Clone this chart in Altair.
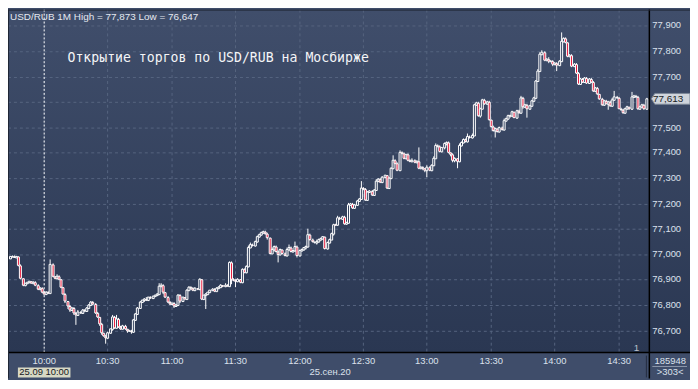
import json
import altair as alt
import pandas as pd

# ---------------- data ----------------
first_open = 76.985
closes = [
    76.990, 76.992, 76.988, 76.990, 76.955, 76.905, 76.878, 76.885, 76.890, 76.893,
    76.888, 76.892, 76.880, 76.862, 76.868, 76.852, 76.845, 76.852, 76.848, 76.962,
    76.912, 76.905, 76.915, 76.900, 76.870, 76.845, 76.815, 76.795, 76.780, 76.790,
    76.770, 76.762, 76.775, 76.770, 76.782, 76.778, 76.790, 76.800, 76.812, 76.805,
    76.770, 76.752, 76.725, 76.690, 76.680, 76.672, 76.690, 76.705, 76.755, 76.712,
    76.745, 76.715, 76.708, 76.720, 76.705, 76.698, 76.700, 76.695, 76.740, 76.765,
    76.790, 76.812, 76.818, 76.825, 76.820, 76.830, 76.826, 76.835, 76.838, 76.845,
    76.875, 76.880, 76.850, 76.830, 76.812, 76.805, 76.808, 76.795, 76.800, 76.838,
    76.815, 76.830, 76.825, 76.860, 76.872, 76.865, 76.860, 76.866, 76.862, 76.900,
    76.825, 76.838, 76.842, 76.850, 76.858, 76.862, 76.856, 76.868, 76.872, 76.878,
    76.874, 76.880, 76.876, 76.968, 76.902, 76.898, 76.895, 76.900, 76.892, 76.940,
    76.930, 76.952, 77.028, 77.040, 77.035, 77.050, 77.070, 77.078, 77.085, 77.088,
    77.082, 77.065, 77.005, 77.020, 77.030, 77.012, 77.000, 77.018, 77.005, 76.995,
    77.020, 77.028, 77.012, 77.015, 77.030, 76.995, 77.015, 77.020, 77.025, 77.030,
    77.078, 77.060, 77.050, 77.045, 77.052, 77.058, 77.062, 77.068, 77.022, 77.045,
    77.060, 77.080, 77.118, 77.115, 77.145, 77.140, 77.148, 77.120, 77.125, 77.196,
    77.200, 77.182, 77.195, 77.210, 77.220, 77.263, 77.258, 77.215, 77.245, 77.250,
    77.235, 77.255, 77.290, 77.298, 77.285, 77.305, 77.310, 77.262, 77.300, 77.340,
    77.372, 77.360, 77.333, 77.403, 77.398, 77.380, 77.392, 77.370, 77.365, 77.372,
    77.362, 77.368, 77.340, 77.345, 77.338, 77.330, 77.345, 77.332, 77.352, 77.380,
    77.430, 77.425, 77.405, 77.420, 77.435, 77.442, 77.400, 77.392, 77.370, 77.378,
    77.365, 77.430, 77.440, 77.452, 77.445, 77.465, 77.460, 77.470, 77.590, 77.598,
    77.545, 77.575, 77.608, 77.595, 77.602, 77.530, 77.505, 77.489, 77.495, 77.485,
    77.500, 77.492, 77.528, 77.535, 77.545, 77.548, 77.560, 77.540, 77.565, 77.558,
    77.618, 77.580, 77.590, 77.575, 77.585, 77.605, 77.615, 77.684, 77.723, 77.790,
    77.795, 77.765, 77.770, 77.760, 77.762, 77.748, 77.755, 77.745, 77.760, 77.840,
    77.850, 77.835, 77.780, 77.785, 77.743, 77.750, 77.716, 77.672, 77.690, 77.680,
    77.695, 77.675, 77.690, 77.680, 77.645, 77.655, 77.632, 77.614, 77.590, 77.605,
    77.595, 77.600, 77.585, 77.610, 77.620, 77.618, 77.575, 77.570, 77.558, 77.575,
    77.580, 77.575, 77.620, 77.625, 77.622, 77.575, 77.580, 77.590, 77.575, 77.613,
]
# upper / lower wick lengths in thousandths of a rouble
wick_up = [
    2, 3, 2, 3, 2, 4, 2, 3, 2, 3,   2, 4, 3, 2, 3, 2, 4, 3, 2, 18,   4, 3, 5, 2, 3, 2, 3, 2, 4, 3,
    3, 2, 5, 3, 2, 4, 3, 6, 4, 3,   2, 3, 2, 4, 2, 3, 5, 3, 6, 2,    15, 3, 2, 4, 3, 2, 3, 2, 4, 5,
    3, 4, 2, 3, 5, 3, 4, 2, 3, 4,   10, 8, 3, 2, 4, 3, 2, 5, 3, 4,   6, 3, 2, 4, 3, 2, 5, 3, 2, 4,
    3, 2, 4, 3, 2, 5, 3, 2, 4, 3,   2, 5, 3, 5, 4, 3, 2, 4, 3, 5,    3, 4, 6, 5, 3, 4, 5, 3, 4, 5,
    4, 3, 2, 5, 4, 3, 2, 4, 3, 2,   5, 10, 3, 2, 20, 3, 4, 3, 2, 3,  22, 4, 3, 2, 5, 3, 4, 3, 2, 4,
    3, 5, 4, 3, 6, 3, 4, 2, 3, 5,   4, 3, 2, 5, 4, 27, 3, 2, 4, 3,   2, 4, 5, 3, 2, 4, 3, 2, 4, 5,
    18, 3, 2, 5, 4, 3, 2, 4, 3, 6,  3, 2, 52, 4, 3, 2, 5, 3, 4, 6,   5, 4, 3, 2, 5, 4, 3, 2, 4, 3,
    2, 5, 4, 3, 4, 12, 3, 4, 5, 4,  3, 4, 6, 3, 4, 3, 2, 3, 4, 2,    3, 2, 5, 3, 4, 2, 5, 3, 4, 3,
    5, 3, 4, 2, 3, 5, 4, 3, 5, 6,   10, 4, 3, 5, 4, 3, 2, 4, 5, 33,  4, 3, 2, 5, 3, 4, 2, 3, 4, 3,
    4, 3, 5, 3, 2, 4, 3, 2, 4, 5,   3, 4, 3, 8, 25, 4, 2, 3, 4, 3,   5, 3, 20, 4, 3, 2, 4, 3, 5, 4,
]
wick_dn = [
    2, 3, 2, 2, 3, 4, 3, 2, 3, 2,   3, 2, 4, 3, 2, 5, 3, 2, 4, 2,    3, 4, 2, 3, 4, 3, 5, 10, 6, 4,
    8, 40, 4, 5, 3, 4, 3, 2, 4, 3,  5, 4, 6, 8, 5, 25, 4, 3, 6, 5,   3, 4, 5, 3, 4, 5, 3, 8, 4, 3,
    4, 3, 2, 4, 3, 5, 2, 3, 4, 3,   4, 3, 5, 4, 3, 6, 4, 5, 3, 4,    5, 4, 3, 2, 4, 5, 3, 4, 3, 2,
    5, 4, 52, 3, 4, 3, 5, 2, 4, 3,  3, 4, 2, 3, 20, 4, 25, 3, 5, 4,  3, 5, 4, 3, 6, 4, 3, 5, 4, 3,
    4, 5, 6, 3, 8, 4, 30, 3, 4, 5,  3, 4, 5, 3, 4, 6, 3, 4, 3, 4,    3, 5, 4, 3, 6, 4, 3, 5, 4, 3,
    4, 3, 5, 4, 3, 4, 5, 3, 4, 3,   5, 4, 3, 6, 4, 3, 5, 4, 3, 5,    4, 3, 2, 5, 4, 3, 6, 5, 3, 4,
    3, 4, 5, 3, 4, 6, 3, 5, 4, 3,   4, 3, 5, 4, 6, 5, 25, 4, 3, 4,   3, 5, 4, 3, 6, 4, 3, 5, 6, 8,
    25, 3, 4, 3, 5, 4, 3, 4, 3, 5,  4, 6, 3, 4, 3, 5, 4, 6, 30, 5,   4, 6, 3, 4, 3, 5, 4, 3, 5, 4,
    3, 5, 4, 35, 4, 3, 5, 3, 4, 3,  5, 4, 3, 6, 4, 5, 3, 25, 4, 3,   4, 5, 3, 4, 6, 5, 4, 3, 5, 4,
    3, 5, 4, 3, 5, 4, 3, 6, 5, 4,   3, 25, 4, 3, 4, 5, 3, 6, 5, 4,   3, 5, 4, 3, 4, 5, 4, 3, 6, 5,
]
assert len(closes) == len(wick_up) == len(wick_dn) == 300

price_ticks = [76.7, 76.8, 76.9, 77.0, 77.1, 77.2, 77.3, 77.4, 77.5, 77.6, 77.7, 77.8, 77.9]
# 77,600 is hidden behind the last-price box in the reference
price_labels_shown = [76.7, 76.8, 76.9, 77.0, 77.1, 77.2, 77.3, 77.4, 77.5, 77.7, 77.8, 77.9]
time_tick_index = [16, 46, 76, 106, 136, 166, 196, 226, 256, 286]
time_tick_labels = ["10:00", "10:30", "11:00", "11:30", "12:00",
                    "12:30", "13:00", "13:30", "14:00", "14:30"]
session_start_index = 16
last_price = 77.613
header_text = "USD/RUB 1M High = 77,873 Low = 76,647"
annotation_text = "Открытие торгов по USD/RUB на Мосбирже"
date_box_text = "25.09 10:00"
date_text = "25.сен.20"
volume_text = "185948"
count_text = ">303<"
page_text = "1"

# ---------------- table ----------------
opens = [first_open] + closes[:-1]
rows = []
for i, (o, c, u, d) in enumerate(zip(opens, closes, wick_up, wick_dn)):
    rows.append(dict(m=i, open=o, close=c,
                     high=max(o, c) + u / 1000.0,
                     low=min(o, c) - d / 1000.0,
                     dir="down" if c < o else "up"))
df = pd.DataFrame(rows)
ticks_df = pd.DataFrame({"p": price_ticks})
labels_df = pd.DataFrame({"p": price_labels_shown,
                          "lab": [f"{p:.3f}".replace(".", ",") for p in price_labels_shown]})
tticks_df = pd.DataFrame({"m": time_tick_index})

# ---------------- styling ----------------
W, H = 647, 346
PR, PB = 41, 26
FONT = "Liberation Sans"
LABEL = "#dbe1ec"
RED = "#e8173a"
UPFILL = "#34425f"
GRID = "#56647f"
plot_grad = alt.Gradient(gradient="linear", x1=0, y1=0, x2=0, y2=1,
                         stops=[alt.GradientStop(offset=0, color="#404e6b"),
                                alt.GradientStop(offset=1, color="#2a3752")])

xs = alt.Scale(domain=[-0.77, 300.58], nice=False, zero=False, padding=0, round=True)
ys = alt.Scale(domain=[76.613, 77.964], nice=False, zero=False, padding=0, round=True)
x_label_expr = f"{json.dumps(time_tick_labels)}[indexof({json.dumps(time_tick_index)}, datum.value)]"
xaxis = alt.Axis(values=time_tick_index, labelExpr=x_label_expr, grid=False,
                 ticks=False, domain=False,
                 labelColor=LABEL, labelFont=FONT, labelFontSize=9.5,
                 labelPadding=3, labelFlush=False, title=None)
yaxis = alt.Axis(values=price_ticks, labels=False, ticks=False, domain=False,
                 grid=False, title=None)

one = pd.DataFrame({"k": [0]})

plot_bg = alt.Chart(one).mark_rect(fill=plot_grad).encode(
    x=alt.value(0), x2=alt.value(W + PR), y=alt.value(0), y2=alt.value(H))

hgrid = alt.Chart(ticks_df).mark_rule(color=GRID, strokeDash=[3, 3], strokeWidth=1,
                                      yOffset=0.5).encode(
    y=alt.Y("p:Q", scale=ys, axis=yaxis), x=alt.value(0), x2=alt.value(W))
vgrid = alt.Chart(tticks_df).mark_rule(color=GRID, strokeDash=[3, 3], strokeWidth=1,
                                       xOffset=0.5).encode(
    x=alt.X("m:Q", scale=xs, axis=xaxis), y=alt.value(0), y2=alt.value(H))

base = alt.Chart(df)
wicks = base.mark_rule(color="white", strokeWidth=1, xOffset=0.5).encode(
    x=alt.X("m:Q", scale=xs, axis=xaxis),
    y=alt.Y("low:Q", scale=ys, axis=yaxis),
    y2="high:Q",
)
bodies = base.mark_bar(size=2, stroke="white", strokeWidth=1, orient="vertical",
                       xOffset=0.5, yOffset=0.5).encode(
    x=alt.X("m:Q", scale=xs, axis=xaxis),
    y=alt.Y("open:Q", scale=ys, axis=yaxis),
    y2="close:Q",
    color=alt.Color("dir:N", scale=alt.Scale(domain=["down", "up"], range=[RED, UPFILL]),
                    legend=None),
)
session_line = alt.Chart(one).mark_rule(
    color="white", strokeDash=[2, 2], strokeWidth=1, xOffset=0.5
).encode(x=alt.X(datum=session_start_index, type="quantitative", scale=xs, axis=xaxis),
         y=alt.value(0), y2=alt.value(H))

y_labels = alt.Chart(labels_df).mark_text(
    align="left", baseline="middle", font=FONT, fontSize=9.5, color=LABEL
).encode(x=alt.value(W + 3), y=alt.Y("p:Q", scale=ys, axis=yaxis), text="lab:N")

sep_h = alt.Chart(one).mark_rule(color="#000000", strokeWidth=1.5).encode(
    x=alt.value(0), x2=alt.value(W + PR), y=alt.value(H))
sep_v = alt.Chart(one).mark_rule(color="#000000", strokeWidth=1.5).encode(
    x=alt.value(W), y=alt.value(0), y2=alt.value(H + PB))
sep_small = alt.Chart(one).mark_rule(color="#242d40", strokeWidth=1).encode(
    x=alt.value(W - 3), y=alt.value(H + 3), y2=alt.value(H + PB - 1))
vol_line = alt.Chart(one).mark_rule(color="#8e99ab", strokeWidth=1).encode(
    x=alt.value(W + 3), x2=alt.value(W + PR - 3), y=alt.value(H + 14))
left_edge = alt.Chart(one).mark_rule(color="#1f2636", strokeWidth=1).encode(
    x=alt.value(0.5), y=alt.value(0), y2=alt.value(H + PB))
top_edge = alt.Chart(one).mark_rule(color="#1f2636", strokeWidth=1).encode(
    x=alt.value(0), x2=alt.value(W + PR), y=alt.value(0.5))

price_marker = alt.Chart(one).mark_point(
    shape="M -1 0 L -0.82 -0.28 L 1 -0.28 L 1 0.28 L -0.82 0.28 Z",
    size=39 * 39, filled=True, fill="#cfd4db", stroke="#7c8798", strokeWidth=1, opacity=1
).encode(x=alt.value(W + 21.5), y=alt.Y(datum=last_price, type="quantitative", scale=ys, axis=yaxis))
price_text = alt.Chart(pd.DataFrame({"t": [f"{last_price:.3f}".replace('.', ',')]})).mark_text(
    align="center", baseline="middle", font=FONT, fontSize=10, color="#1a1d24"
).encode(x=alt.value(W + 19), y=alt.Y(datum=last_price, type="quantitative", scale=ys, axis=yaxis),
         text="t:N")


def label(txt, x, y, size=9.5, color=LABEL, font=FONT, align="center"):
    return alt.Chart(pd.DataFrame({"t": [txt]})).mark_text(
        align=align, baseline="middle", font=font, fontSize=size, color=color
    ).encode(x=alt.value(x), y=alt.value(y), text="t:N")


header = label(header_text, 2, 7, size=10, color="#e4e8f0", align="left")
annotation = label(annotation_text, 60, 49, size=13.3, color="#f4f5f7",
                   font="DejaVu Sans Mono", align="left")
date_box = alt.Chart(one).mark_rect(color="#d7d8c4").encode(
    x=alt.value(10), x2=alt.value(63), y=alt.value(H + 15), y2=alt.value(H + 25))
date_box_label = label(date_box_text, 36.5, H + 20, size=9.5, color="#15171c")
date_label = label(date_text, 325, H + 20)
volume_label = label(volume_text, W + 21, H + 8)
count_label = label(count_text, W + 21, H + 20)
page_label = label(page_text, 634, 341, size=10, color="#b9c0cc")

chart = alt.layer(
    plot_bg, hgrid, vgrid, session_line, wicks, bodies, y_labels,
    sep_h, sep_v, sep_small, vol_line, left_edge, top_edge, price_marker, price_text,
    header, annotation, date_box, date_box_label, date_label,
    volume_label, count_label, page_label,
).properties(
    width=W, height=H,
    background="#3f4d6a",
    padding={"left": 0, "top": 0, "right": PR, "bottom": PB},
    autosize=alt.AutoSizeParams(type="none"),
).configure_view(stroke=None)

chart.save("out.html", embed_options={"renderer": "svg", "actions": False})
